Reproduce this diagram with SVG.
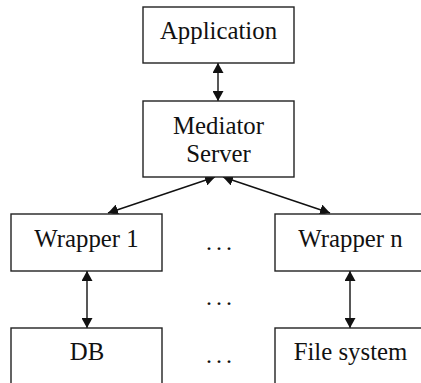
<svg xmlns="http://www.w3.org/2000/svg" width="421" height="383" viewBox="0 0 421 383">
  <defs>
    <marker id="arrow" viewBox="0 0 10 11" refX="10" refY="5.5" markerWidth="10" markerHeight="11" markerUnits="userSpaceOnUse" orient="auto-start-reverse">
      <path d="M0,0 L10,5.5 L0,11 z" fill="#111"/>
    </marker>
    <style>
      .box { fill: #fff; stroke: #222; stroke-width: 1.4; }
      .lbl { font-size: 24.8px; fill: #111; text-anchor: middle; }
      .dots { font-size: 24px; fill: #111; text-anchor: middle; letter-spacing: 4px; }
      .link { stroke: #111; stroke-width: 1.4; fill: none; marker-start: url(#arrow); marker-end: url(#arrow); }
    </style>
  </defs>
  <rect width="421" height="383" fill="#fff"/>

  <g id="connectors">
    <line class="link" x1="218" y1="63" x2="218" y2="101"/>
    <line class="link" x1="215" y1="177" x2="108" y2="213"/>
    <line class="link" x1="223" y1="177" x2="330" y2="213"/>
    <line class="link" x1="87" y1="271" x2="87" y2="328"/>
    <line class="link" x1="350" y1="271" x2="350" y2="328"/>
  </g>

  <g font-family="Liberation Serif, Times New Roman, DejaVu Serif, serif">
    <g id="application">
      <rect class="box" x="143" y="7" width="151" height="56"/>
      <text class="lbl" x="218.5" y="39">Application</text>
    </g>

    <g id="mediator">
      <rect class="box" x="143" y="101" width="151" height="76"/>
      <text class="lbl" x="218.5" y="133.5">Mediator</text>
      <text class="lbl" x="218.5" y="162">Server</text>
    </g>

    <g id="wrapper-1">
      <rect class="box" x="11" y="214" width="151" height="57"/>
      <text class="lbl" x="86.5" y="247">Wrapper 1</text>
    </g>

    <g id="wrapper-n">
      <rect class="box" x="275" y="214" width="151" height="57"/>
      <text class="lbl" x="350.5" y="247">Wrapper n</text>
    </g>

    <g id="db">
      <rect class="box" x="11" y="328" width="151" height="60"/>
      <text class="lbl" x="87" y="360">DB</text>
    </g>

    <g id="file-system">
      <rect class="box" x="275" y="328" width="151" height="60"/>
      <text class="lbl" x="350.5" y="360">File system</text>
    </g>

    <g id="ellipses">
      <text class="dots" x="221" y="250">...</text>
      <text class="dots" x="221" y="305">...</text>
      <text class="dots" x="221" y="363">...</text>
    </g>
  </g>
</svg>
